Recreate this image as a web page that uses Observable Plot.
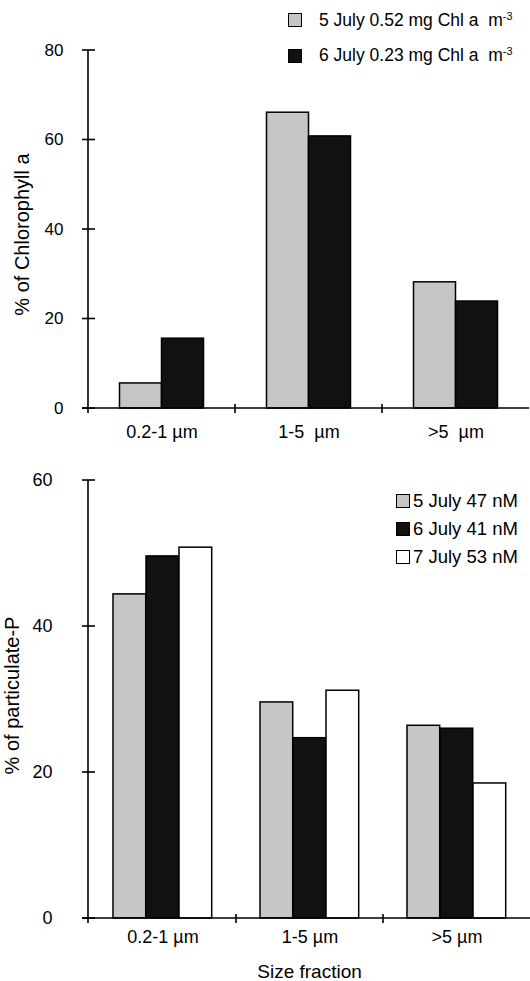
<!DOCTYPE html>
<html>
<head>
<meta charset="utf-8">
<script src="https://cdn.jsdelivr.net/npm/d3@7"></script>
<script src="https://cdn.jsdelivr.net/npm/@observablehq/plot@0.6"></script>
<style>
  html, body { margin: 0; padding: 0; background: #fff; }
  #wrap { position: relative; width: 530px; height: 981px; font-family: "Liberation Sans", Arial, Helvetica, sans-serif; color: #000; overflow: hidden; }
  #wrap svg { position: absolute; left: 0; font-family: "Liberation Sans", Arial, Helvetica, sans-serif; }
  .row { position: absolute; display: flex; align-items: center; height: 24px; white-space: pre; }
  .sw { width: 12px; height: 12px; border: 1px solid #000; flex: none; }
  sup { font-size: 62%; vertical-align: 0.55em; line-height: 0; }
</style>
</head>
<body>
<div id="wrap"></div>
<script>
// ---------- data ----------
const sizeFractions = ["0.2-1 µm", "1-5 µm", ">5 µm"];
const chlTickLabels = ["0.2-1 µm", "1-5\u00a0 µm", ">5\u00a0 µm"];
const chlSeries = ["5 July 0.52 mg Chl a\u00a0 m", "6 July 0.23 mg Chl a\u00a0 m"];
const chlSeriesSup = ["-3", "-3"];
const chl5July = [5.6, 66.1, 28.2];
const chl6July = [15.6, 60.8, 23.9];
const chlTicks = [0, 20, 40, 60, 80];
const chlYLabel = "% of Chlorophyll a";

const pSeries = ["5 July 47 nM", "6 July 41 nM", "7 July 53 nM"];
const p5July = [44.4, 29.6, 26.4];
const p6July = [49.6, 24.7, 26.0];
const p7July = [50.8, 31.2, 18.5];
const pTicks = [0, 20, 40, 60];
const pYLabel = "% of particulate-P";
const xLabel = "Size fraction";

const gray = "#c6c6c6", black = "#111111", white = "#ffffff";
const font = "'Liberation Sans', Arial, Helvetica, sans-serif";

// axis lines with crossing ticks, drawn from the plot's own scales
function axisFrame(ticks) {
  return (index, scales, values, dims) => {
    const {x, y} = scales;
    const g = d3.create("svg:g").attr("stroke", "#000").attr("stroke-width", 1.6).attr("fill", "none");
    const x0 = dims.marginLeft, x1 = dims.width - dims.marginRight;
    const y0 = y(0), yTop = y(ticks[ticks.length - 1]);
    g.append("line").attr("x1", x0).attr("x2", x0).attr("y1", yTop).attr("y2", y0 + 5);
    g.append("line").attr("x1", x0 - 6).attr("x2", x1).attr("y1", y0).attr("y2", y0);
    for (const t of ticks) {
      g.append("line").attr("x1", x0 - 6).attr("x2", x0 + 7).attr("y1", y(t)).attr("y2", y(t));
    }
    for (const c of sizeFractions.slice(1)) {
      const px = x(c);
      g.append("line").attr("x1", px).attr("x2", px).attr("y1", y0 - 4).attr("y2", y0 + 5);
    }
    return g.node();
  };
}

const wrap = document.getElementById("wrap");

// ---------- top panel ----------
const chlPlot = Plot.plot({
  width: 530, height: 460,
  marginLeft: 88, marginRight: 1, marginTop: 50, marginBottom: 52,
  style: {fontFamily: font, background: "transparent", overflow: "visible"},
  x: {type: "band", domain: sizeFractions, padding: 0},
  y: {domain: [0, 80]},
  marks: [
    Plot.barY(sizeFractions, {x: d => d, y: (d, i) => chl5July[i], fill: gray, stroke: "#000", strokeWidth: 1.5, insetLeft: 31.5, insetRight: 73.5}),
    Plot.barY(sizeFractions, {x: d => d, y: (d, i) => chl6July[i], fill: black, stroke: "#000", strokeWidth: 1.5, insetLeft: 73.5, insetRight: 31.5}),
    axisFrame(chlTicks),
    Plot.axisY(chlTicks, {tickSize: 0, tickPadding: 25, fontSize: 17, label: null}),
    Plot.axisX({tickSize: 0, tickPadding: 17, fontSize: 18, label: null, tickFormat: d => chlTickLabels[sizeFractions.indexOf(d)]}),
    Plot.text([chlYLabel], {text: d => d, frameAnchor: "left", textAnchor: "middle", lineAnchor: "middle", dx: -66, dy: 5, rotate: -90, fontSize: 20})
  ]
});
chlPlot.style.top = "0px";
wrap.appendChild(chlPlot);

// ---------- bottom panel ----------
const pPlot = Plot.plot({
  width: 530, height: 540,
  marginLeft: 88, marginRight: 0, marginTop: 20, marginBottom: 82,
  style: {fontFamily: font, background: "transparent", overflow: "visible"},
  x: {type: "band", domain: sizeFractions, padding: 0},
  y: {domain: [0, 60]},
  marks: [
    Plot.barY(sizeFractions, {x: d => d, y: (d, i) => p5July[i], fill: gray, stroke: "#000", strokeWidth: 1.5, insetLeft: 24, insetRight: 90.3}),
    Plot.barY(sizeFractions, {x: d => d, y: (d, i) => p6July[i], fill: black, stroke: "#000", strokeWidth: 1.5, insetLeft: 57, insetRight: 57.3}),
    Plot.barY(sizeFractions, {x: d => d, y: (d, i) => p7July[i], fill: white, stroke: "#000", strokeWidth: 1.5, insetLeft: 90, insetRight: 24.3}),
    axisFrame(pTicks),
    Plot.axisY(pTicks, {tickSize: 0, tickPadding: 36, fontSize: 18, label: null}),
    Plot.axisX({tickSize: 0, tickPadding: 12, fontSize: 18, label: null}),
    Plot.text([xLabel], {text: d => d, frameAnchor: "bottom", textAnchor: "middle", lineAnchor: "middle", dy: 53, fontSize: 19}),
    Plot.text([pYLabel], {text: d => d, frameAnchor: "left", textAnchor: "middle", lineAnchor: "middle", dx: -76, dy: -4, rotate: -90, fontSize: 20})
  ]
});
pPlot.style.top = "460px";
wrap.appendChild(pPlot);

// ---------- legends ----------
function addLegend(names, sups, colors, left, gap, centers, fontSize) {
  names.forEach((name, i) => {
    const row = document.createElement("div");
    row.className = "row";
    row.style.left = left + "px";
    row.style.top = (centers[i] - 12) + "px";
    row.style.fontSize = fontSize + "px";
    const sw = document.createElement("span");
    sw.className = "sw";
    sw.style.background = colors[i];
    const tx = document.createElement("span");
    tx.style.marginLeft = gap + "px";
    tx.textContent = name;
    if (sups && sups[i]) {
      const s = document.createElement("sup");
      s.textContent = sups[i];
      tx.appendChild(s);
    }
    row.appendChild(sw);
    row.appendChild(tx);
    wrap.appendChild(row);
  });
}
addLegend(chlSeries, chlSeriesSup, [gray, black], 288, 17, [20, 55.5], 17.5);
addLegend(pSeries, null, [gray, black, white], 396, 3, [501, 529, 557], 18.5);
</script>
</body>
</html>
